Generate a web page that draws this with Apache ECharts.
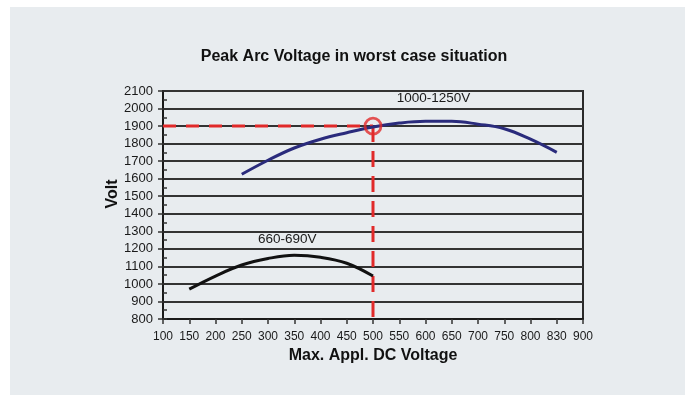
<!DOCTYPE html>
<html>
<head>
<meta charset="utf-8">
<script src="https://cdn.jsdelivr.net/npm/echarts@6/dist/echarts.min.js"></script>
<style>
html,body{margin:0;padding:0;background:#ffffff;}
#chart{width:687px;height:396px;}
</style>
</head>
<body>
<div id="chart"></div>
<script>
// ---- data ----
const xCategories = ['100','150','200','250','300','350','400','450','500','550','600','650','700','750','800','830','900'];
const yMin = 800, yMax = 2100, yStep = 100;
const v1000_1250 = [null, null, null, 1625, 1705, 1775, 1825, 1862, 1895, 1917, 1927, 1927, 1911, 1885, 1825, 1750, null];
const v660_690  = [null, 970, 1045, 1108, 1145, 1163, 1152, 1118, 1045, null, null, null, null, null, null, null, null];
const refX = '500', refY = 1900;
const seriesNames = ['1000-1250V', '660-690V'];
const labelAnchors = [['600', 2058], ['350', 1254]];
const titleText = 'Peak Arc Voltage in worst case situation';
const xName = 'Max. Appl. DC Voltage';
const yName = 'Volt';

const FONT = '"Liberation Sans", Arial, sans-serif';
const RED = '#e12a2a';
const chart = echarts.init(document.getElementById('chart'));

function labelMark(anchor, text, offset) {
  return {
    symbol: 'circle', symbolSize: 0, silent: true,
    data: [{ coord: anchor, value: text }],
    label: { show: true, position: 'inside', formatter: text, offset: offset,
      color: '#1a1a1a', fontSize: 13.5, fontFamily: FONT }
  };
}

chart.setOption({
  animation: false,
  backgroundColor: 'transparent',
  graphic: [{
    type: 'rect', z: -10, silent: true,
    shape: { x: 10, y: 7, width: 675, height: 388 },
    style: { fill: '#e8ecef' }
  }],
  title: {
    text: titleText, left: 354, top: 49, textAlign: 'center', padding: 0,
    textStyle: { fontFamily: FONT, fontSize: 16, fontWeight: 'bold', color: '#111' }
  },
  grid: { left: 163, right: 104, top: 91, bottom: 77, show: true,
    borderColor: '#2a2a2a', borderWidth: 2, backgroundColor: 'transparent' },
  xAxis: {
    type: 'category', data: xCategories, boundaryGap: false,
    name: xName, nameLocation: 'middle', nameGap: 29,
    nameTextStyle: { fontFamily: FONT, fontSize: 16, fontWeight: 'bold', color: '#111' },
    axisLine: { lineStyle: { color: '#1a1a1a', width: 2 } },
    axisTick: { show: true, interval: 0, length: 5, lineStyle: { color: '#333', width: 1.5 } },
    axisLabel: { interval: 0, fontFamily: FONT, fontSize: 12, color: '#1a1a1a', margin: 12 },
    splitLine: { show: false }
  },
  yAxis: [{
    type: 'value', min: yMin, max: yMax, interval: yStep,
    name: yName, nameLocation: 'middle', nameGap: 42, nameRotate: 90, nameMoveOverlap: false,
    nameTextStyle: { fontFamily: FONT, fontSize: 16, fontWeight: 'bold', color: '#111', padding: [0, 0, 0, 22] },
    axisLine: { show: true, lineStyle: { color: '#1a1a1a', width: 2 } },
    axisTick: { show: true, length: 5, lineStyle: { color: '#333', width: 1.5 } },
    axisLabel: { fontFamily: FONT, fontSize: 13, color: '#1a1a1a', margin: 10,
      formatter: function (v) { return String(v); } },
    splitLine: { show: true, lineStyle: { color: '#333333', width: 2 } }
  }, {
    type: 'value', min: yMin, max: yMax, interval: yStep / 2, position: 'left',
    axisLine: { show: false },
    axisTick: { show: true, inside: true, length: 4, lineStyle: { color: '#333', width: 1.5 } },
    axisLabel: { show: false },
    splitLine: { show: false }
  }],
  series: [
    {
      name: 'ref-h', type: 'line', silent: true, symbol: 'none', z: 3,
      data: [[xCategories[0], refY], [refX, refY]],
      lineStyle: { color: RED, width: 3, type: [13, 10] }
    },
    {
      name: 'ref-v', type: 'line', silent: true, symbol: 'none', z: 3,
      data: [[refX, refY], [refX, yMin]],
      lineStyle: { color: RED, width: 3, type: [16, 9] }
    },
    {
      name: seriesNames[0], type: 'line', data: v1000_1250, smooth: 0.4,
      showSymbol: false, connectNulls: false, z: 4,
      lineStyle: { color: '#2a2b7c', width: 3 },
      markPoint: labelMark(labelAnchors[0], seriesNames[0], [8, 0])
    },
    {
      name: seriesNames[1], type: 'line', data: v660_690, smooth: 0.4,
      showSymbol: false, z: 4,
      lineStyle: { color: '#111', width: 3 },
      markPoint: labelMark(labelAnchors[1], seriesNames[1], [-7, 0])
    },
    {
      name: 'ref-point', type: 'scatter', silent: true, z: 5,
      data: [[refX, refY]], symbol: 'circle', symbolSize: 16,
      itemStyle: { color: 'rgba(0,0,0,0)', borderColor: RED, borderWidth: 2.8 }
    }
  ]
});
</script>
</body>
</html>
